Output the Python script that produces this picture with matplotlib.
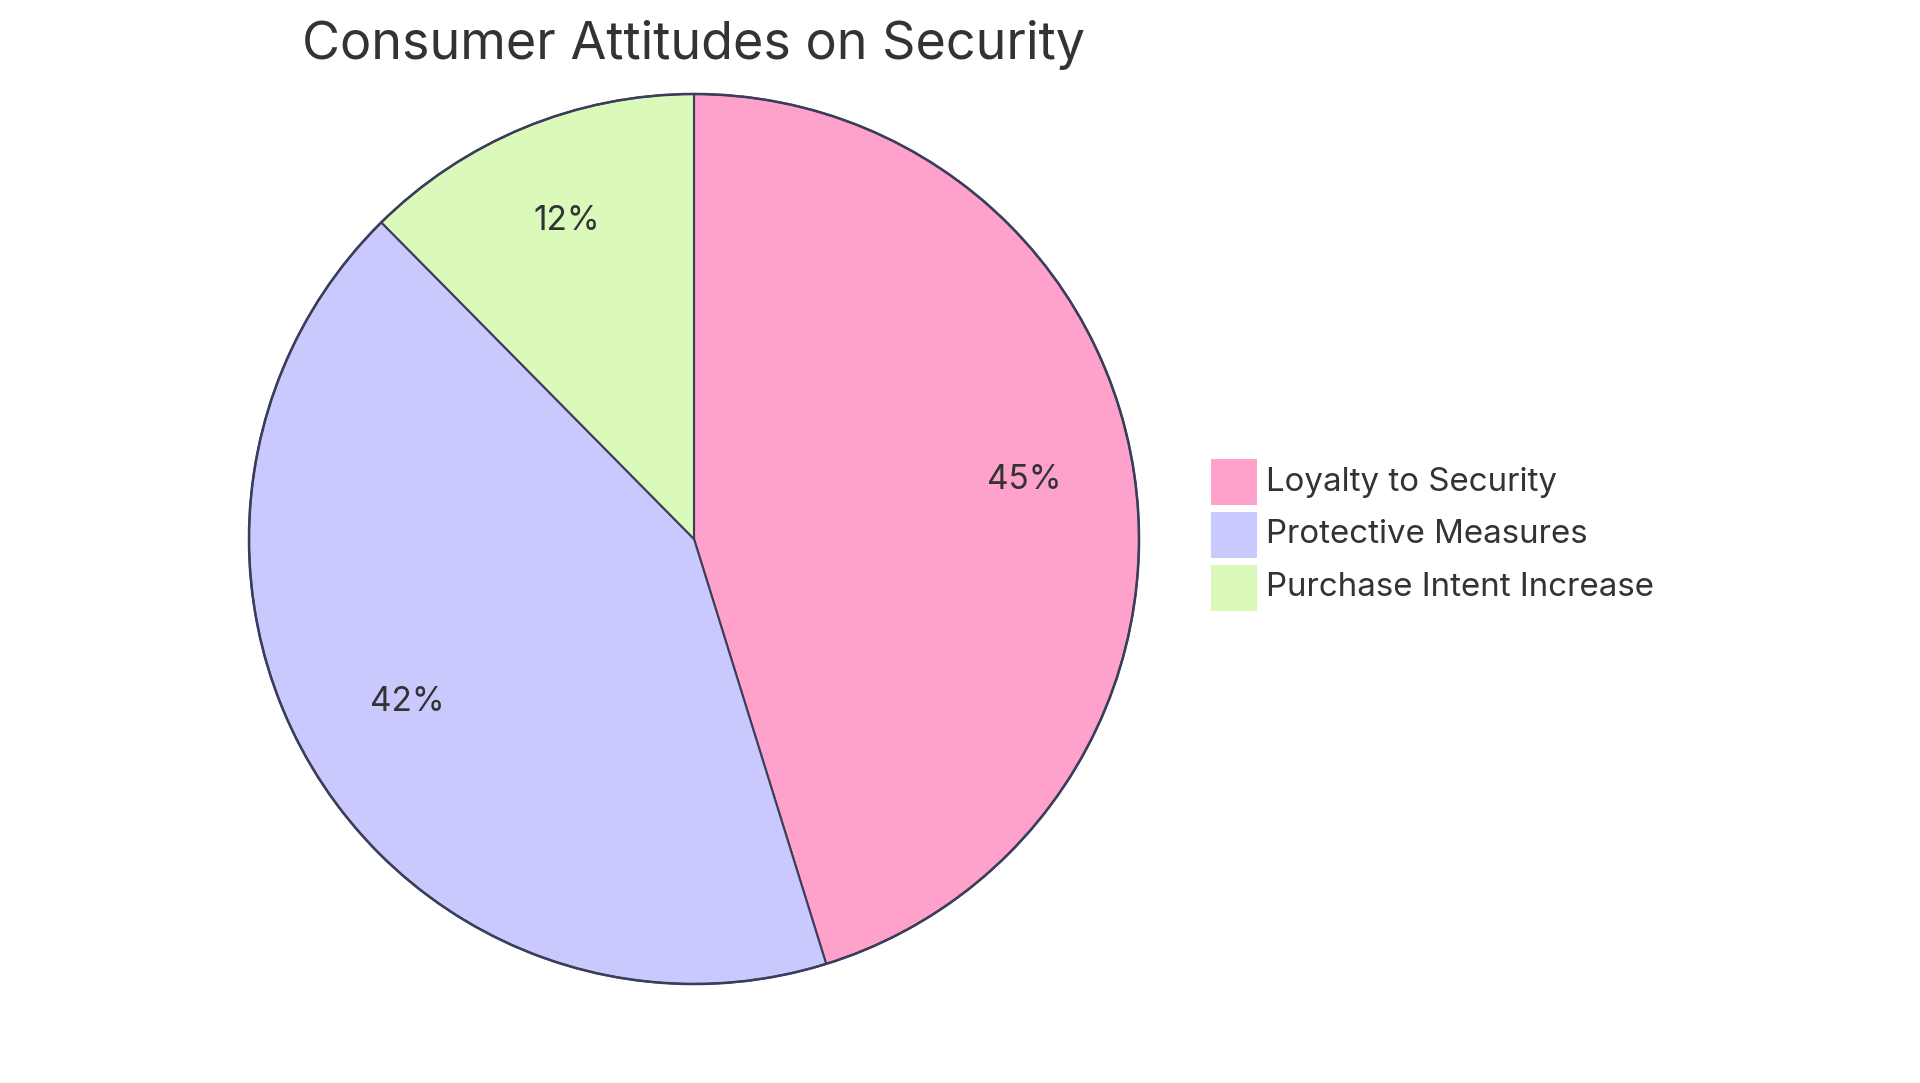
import matplotlib.pyplot as plt
from matplotlib.patches import Rectangle, Circle

# data
labels = ['Loyalty to Security', 'Protective Measures', 'Purchase Intent Increase']
values = [45.2, 42.4, 12.4]
colors = ['#FFA2CB', '#C9C9FD', '#DAF9BA']

W, H = 1920, 1083
plt.rcParams['font.family'] = ['Inter', 'DejaVu Sans']
txt_color = '#333333'
edge = '#3b3e5b'

fig = plt.figure(figsize=(W / 100, H / 100), dpi=100)

# pie axes, center (694, 539) px, radius 445 px
cx, cy, r = 694, 539, 445
ax = fig.add_axes([(cx - r) / W, (H - cy - r) / H, 2 * r / W, 2 * r / H])
wedges, texts, autotexts = ax.pie(
    values, colors=colors, startangle=90, counterclock=False,
    autopct=lambda p: f'{p:.0f}%', pctdistance=0.75, radius=1,
    wedgeprops=dict(edgecolor=edge, linewidth=1.5, clip_on=False),
    textprops=dict(fontsize=24, color=txt_color))
for t in autotexts:
    t.set_va('baseline')
ax.add_patch(Circle((0, 0), 1, fill=False, edgecolor=edge, linewidth=1.8,
                    clip_on=False))
ax.set_xlim(-1, 1)
ax.set_ylim(-1, 1)
ax.set_aspect('equal')
ax.axis('off')

fig.text(cx / W, 1 - 45 / H, 'Consumer Attitudes on Security',
         ha='center', va='center', fontsize=37.5, color=txt_color)

# legend
sq = 46
x0, y0, step = 1211, 459, 53
for i, (lab, col) in enumerate(zip(labels, colors)):
    top = y0 + i * step
    fig.add_artist(Rectangle((x0 / W, 1 - (top + sq) / H), sq / W, sq / H,
                             transform=fig.transFigure, facecolor=col,
                             edgecolor='none'))
    fig.text(1266 / W, 1 - (top + sq / 2) / H, lab, ha='left', va='center',
             fontsize=23.8, color=txt_color)

fig.savefig('out.png', dpi=100)
